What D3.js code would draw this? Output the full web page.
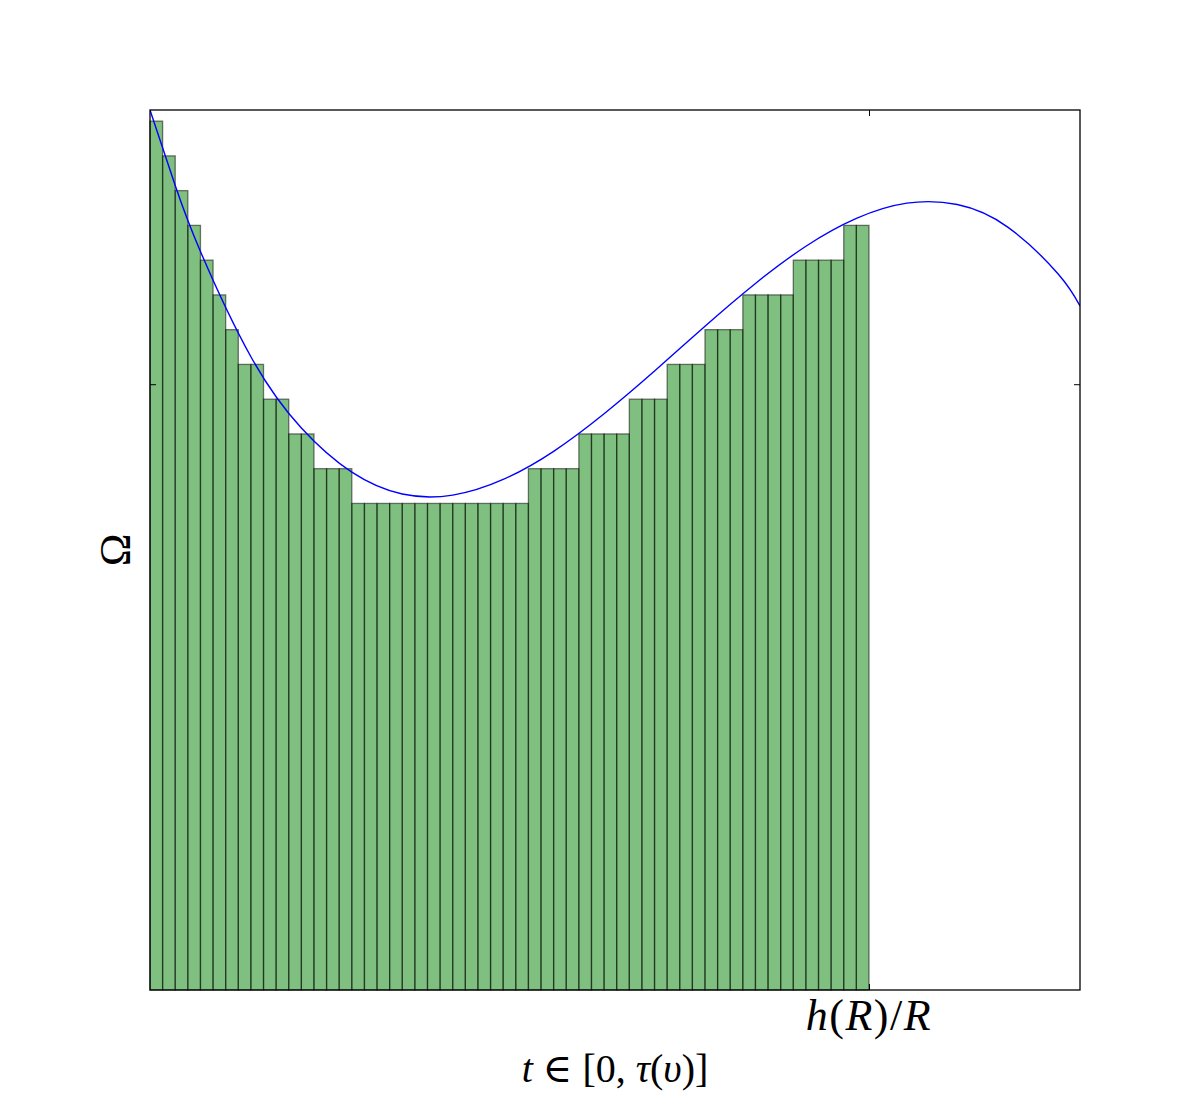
<!DOCTYPE html>
<html>
<head>
<meta charset="utf-8">
<script src="https://cdn.jsdelivr.net/npm/d3@7"></script>
<style>
  body { margin: 0; background: #fff; }
  text { font-family: "Liberation Serif", "DejaVu Serif", serif; }
</style>
</head>
<body>
<div id="chart"></div>
<script>
// data
// bar heights (one bar per unit step of t), in grid units of Omega
var barLevels = [25, 24, 23, 22, 21, 20, 19, 18, 18, 17, 17, 16, 16, 15, 15, 15,
    14, 14, 14, 14, 14, 14, 14, 14, 14, 14, 14, 14, 14, 14,
    15, 15, 15, 15, 16, 16, 16, 16, 17, 17, 17, 18, 18, 18,
    19, 19, 19, 20, 20, 20, 20, 21, 21, 21, 21, 22, 22];

// blue curve
var curveT = [0, 2, 4, 8, 12, 16, 20, 24, 28, 32, 36, 40, 44, 48, 52, 56, 60, 64, 68, 72, 73.73];
var curveOmega = [25.32, 23.15, 21.25, 18.22, 16.17, 14.9, 14.27, 14.24, 14.69, 15.5, 16.58,
    17.81, 19.1, 20.33, 21.4, 22.2, 22.64, 22.6, 21.95, 20.6, 19.68];

var xTicks = [57];
var xTickLabels = ["h(R)/R"];
var yTicks = [17.43];
var xMax = 73.73;
var yMax = 25.32;

// chart set up
var svgWidth = 1200;
var svgHeight = 1100;
var margin = { top: 110, right: 120, bottom: 110, left: 150 };
var width = svgWidth - margin.left - margin.right;
var height = svgHeight - margin.top - margin.bottom;

var svg = d3.select("#chart")
    .append("svg")
    .attr("width", svgWidth)
    .attr("height", svgHeight);

var chartGroup = svg.append("g")
    .attr("transform", `translate(${margin.left}, ${margin.top})`);

var xScale = d3.scaleLinear().domain([0, xMax]).range([0, width]);
var yScale = d3.scaleLinear().domain([0, yMax]).range([height, 0]);

svg.append("defs").append("clipPath")
    .attr("id", "plotClip")
    .append("rect")
    .attr("width", width)
    .attr("height", height);

// bars
chartGroup.selectAll("rect.bar")
    .data(barLevels)
    .enter()
    .append("rect")
    .attr("class", "bar")
    .attr("x", (d, i) => xScale(i))
    .attr("y", d => yScale(d))
    .attr("width", (d, i) => xScale(i + 1) - xScale(i))
    .attr("height", d => yScale(0) - yScale(d))
    .attr("fill", "green")
    .attr("fill-opacity", 0.5)
    .attr("stroke", "black")
    .attr("stroke-opacity", 0.5)
    .attr("stroke-width", 1.3);

// curve
var curvePoints = curveT.map((t, i) => [t, curveOmega[i]]);
var line = d3.line()
    .x(d => xScale(d[0]))
    .y(d => yScale(d[1]))
    .curve(d3.curveNatural);

chartGroup.append("path")
    .datum(curvePoints)
    .attr("clip-path", "url(#plotClip)")
    .attr("d", line)
    .attr("fill", "none")
    .attr("stroke", "#0000ff")
    .attr("stroke-width", 1.4);

// axes: ticks point inward, on all four sides
var tickLen = 6;
var bottomAxis = d3.axisBottom(xScale).tickValues(xTicks).tickSize(-tickLen).tickFormat("");
var topAxis = d3.axisTop(xScale).tickValues(xTicks).tickSize(-tickLen).tickFormat("");
var leftAxis = d3.axisLeft(yScale).tickValues(yTicks).tickSize(-tickLen).tickFormat("");
var rightAxis = d3.axisRight(yScale).tickValues(yTicks).tickSize(-tickLen).tickFormat("");

chartGroup.append("g").attr("transform", `translate(0, ${height})`).call(bottomAxis);
chartGroup.append("g").call(topAxis);
chartGroup.append("g").call(leftAxis);
chartGroup.append("g").attr("transform", `translate(${width}, 0)`).call(rightAxis);

chartGroup.selectAll(".domain").remove();
chartGroup.selectAll(".tick line").attr("stroke", "black").attr("stroke-width", 1);

// frame
chartGroup.append("rect")
    .attr("width", width)
    .attr("height", height)
    .attr("fill", "none")
    .attr("stroke", "black")
    .attr("stroke-width", 1.3);

// tick label under x tick, math style
function mathText(sel, parts) {
    parts.forEach(function(p) {
        sel.append("tspan")
            .style("font-style", p[1] ? "italic" : "normal")
            .text(p[0]);
    });
}

var xTickLabel = chartGroup.append("text")
    .attr("x", xScale(xTicks[0]))
    .attr("y", height + 40)
    .attr("text-anchor", "middle")
    .style("font-size", "44px")
    .style("letter-spacing", "1.5px");
mathText(xTickLabel, [["h", true], ["(", false], ["R", true], [")/", false], ["R", true]]);
xTickLabel.attr("data-label", xTickLabels[0]);

// axis labels
var xLabel = chartGroup.append("text")
    .attr("x", width / 2)
    .attr("y", height + 92)
    .attr("text-anchor", "middle")
    .style("font-size", "40px");
mathText(xLabel, [["t", true], [" \u2208 [0, ", false], ["\u03c4", true], ["(", false], ["\u03c5", true], [")]", false]]);

chartGroup.append("text")
    .attr("transform", "rotate(-90)")
    .attr("x", 0 - (height / 2))
    .attr("y", -20)
    .attr("text-anchor", "middle")
    .style("font-size", "44px")
    .text("\u03a9");
</script>
</body>
</html>
